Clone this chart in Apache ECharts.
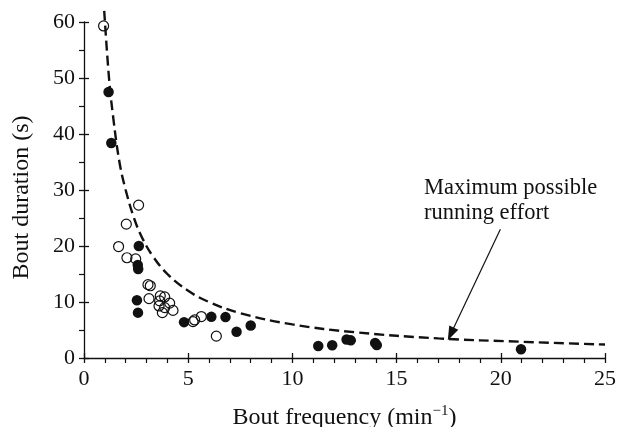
<!DOCTYPE html>
<html>
<head>
<meta charset="utf-8">
<script src="https://cdn.jsdelivr.net/npm/echarts@6/dist/echarts.min.js"></script>
<style>
	html,body{margin:0;padding:0;background:#fff;}
	#chart{width:619px;height:427px;}
</style>
</head>
<body>
<div id="chart"></div>
<script>
//空心圆：[频率, 持续时间]
var openPoints = [
	[0.94, 59.3], [2.62, 27.3], [2.03, 23.9], [1.66, 19.9], [2.06, 17.9], [2.48, 17.7],
	[3.07, 13.1], [3.18, 12.9], [3.12, 10.6], [3.66, 11.1], [3.87, 10.9], [3.63, 10.2],
	[4.11, 9.8], [3.6, 9.3], [3.87, 9.0], [3.76, 8.1], [4.27, 8.5], [5.23, 6.5],
	[5.31, 6.8], [5.63, 7.4], [6.35, 3.9]
];
//实心圆
var filledPoints = [
	[1.18, 47.5], [1.31, 38.4], [2.63, 20.0], [2.58, 16.6], [2.6, 15.9], [2.54, 10.3],
	[2.59, 8.1], [4.8, 6.4], [6.11, 7.35], [6.79, 7.3], [7.32, 4.7], [8.0, 5.8],
	[11.24, 2.15], [11.91, 2.27], [12.6, 3.3], [12.8, 3.15], [13.97, 2.7], [14.05, 2.3],
	[20.97, 1.55]
];
//虚线：最大可能跑动
var curveX = [0.97, 1.2, 1.4, 1.7, 2, 2.4, 2.8, 3.3, 4, 5, 6, 7.5, 10, 13, 17, 21, 25];
var curveY = [62, 50, 43, 35, 30, 25, 21.4, 18.2, 15, 12, 10, 8, 6, 4.6, 3.5, 2.9, 2.4];
//箭头起点、终点
var arrowFrom = [19.98, 23.0];
var arrowTo = [17.6, 4.3];
var noteLines = ['Maximum possible', 'running effort'];

var font = '"Liberation Serif", "Times New Roman", serif';
var ink = '#111';

var curve = [];
for (var i = 0; i < curveX.length; i++) {
	curve.push([curveX[i], curveY[i]]);
}

var myChart = echarts.init(document.getElementById('chart'));
var option = {
	animation: false,
	grid: {
		left: 84,
		right: 14,
		top: 22,
		bottom: 69,
		outerBoundsMode: 'none'
	},
	xAxis: [{
		type: 'value',
		min: 0,
		max: 25,
		interval: 5,
		name: 'Bout frequency (min{sup|−1})',
		nameLocation: 'middle',
		nameGap: 46,
		nameTextStyle: {
			color: ink,
			fontFamily: font,
			fontSize: 24,
			rich: {
				sup: {fontSize: 15, verticalAlign: 'top', padding: [0, 0, 12, 0], color: ink, fontFamily: font}
			}
		},
		axisLine: {lineStyle: {color: ink, width: 1.3}},
		axisTick: {inside: false, length: 5, lineStyle: {color: ink, width: 1.3}},
		minorTick: {show: true, splitNumber: 5, length: 5, lineStyle: {color: ink, width: 1.2}},
		axisLabel: {color: ink, fontFamily: font, fontSize: 22, margin: 10},
		splitLine: {show: false}
	}, {
		//朝内的主刻度
		type: 'value',
		min: 0,
		max: 25,
		interval: 5,
		position: 'bottom',
		axisLine: {show: false},
		axisTick: {inside: true, length: 5, lineStyle: {color: ink, width: 1.3}},
		axisLabel: {show: false},
		splitLine: {show: false}
	}],
	yAxis: [{
		type: 'value',
		min: 0,
		max: 60,
		interval: 10,
		name: 'Bout duration (s)',
		nameLocation: 'middle',
		nameGap: 50,
		nameTextStyle: {color: ink, fontFamily: font, fontSize: 24, padding: [0, 15, 0, 0]},
		axisLine: {show: true, lineStyle: {color: ink, width: 1.3}},
		axisTick: {show: true, inside: false, length: 5, lineStyle: {color: ink, width: 1.3}},
		minorTick: {show: true, splitNumber: 2, length: 5, lineStyle: {color: ink, width: 1.2}},
		axisLabel: {color: ink, fontFamily: font, fontSize: 22, margin: 9},
		splitLine: {show: false}
	}, {
		type: 'value',
		min: 0,
		max: 60,
		interval: 10,
		position: 'left',
		axisLine: {show: false},
		axisTick: {show: true, inside: true, length: 5, lineStyle: {color: ink, width: 1.3}},
		axisLabel: {show: false},
		splitLine: {show: false}
	}],
	graphic: [{
		type: 'text',
		left: 424,
		top: 176,
		style: {
			text: noteLines.join('\n'),
			fill: ink,
			font: '22.5px ' + font,
			lineHeight: 25
		}
	}],
	series: [{
		type: 'line',
		data: curve,
		smooth: 0.4,
		clip: false,
		symbol: 'none',
		lineStyle: {color: ink, width: 2.4, type: [10, 5]},
		markLine: {
			silent: true,
			symbol: ['none', 'triangle'],
			symbolSize: [10, 14],
			label: {show: false},
			lineStyle: {color: ink, width: 1.2, type: 'solid'},
			data: [[{coord: arrowFrom}, {coord: arrowTo}]]
		}
	}, {
		type: 'scatter',
		data: openPoints,
		symbol: 'circle',
		symbolSize: 10,
		itemStyle: {color: 'rgba(0,0,0,0)', borderColor: ink, borderWidth: 1.2, opacity: 1}
	}, {
		type: 'scatter',
		data: filledPoints,
		symbol: 'circle',
		symbolSize: 10.5,
		itemStyle: {color: ink, opacity: 1}
	}]
};
myChart.setOption(option);
</script>
</body>
</html>
